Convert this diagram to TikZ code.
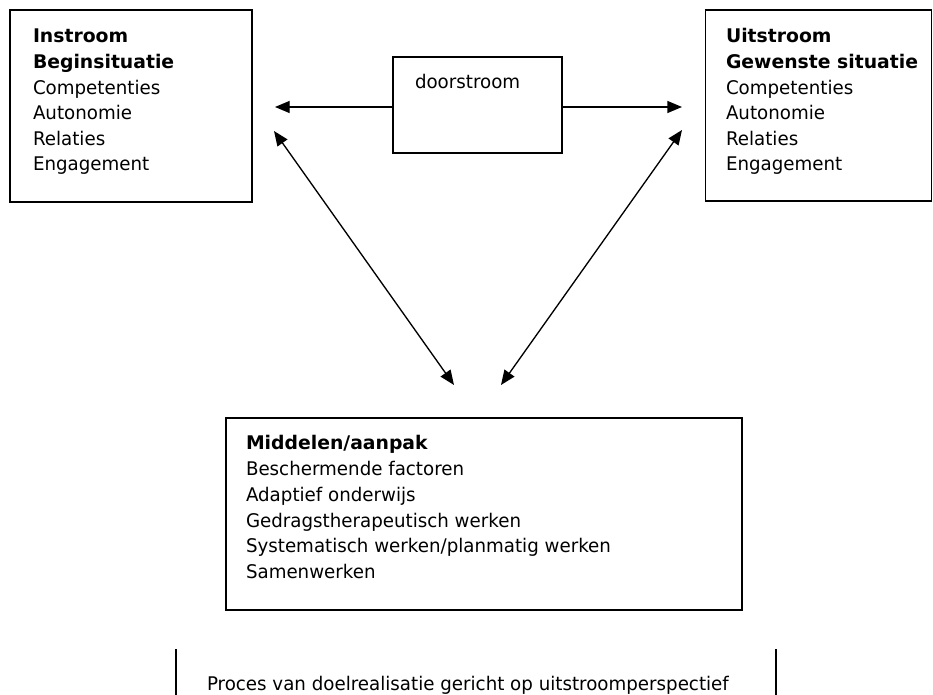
\documentclass[tikz,border=0pt]{standalone}
\usepackage{fontspec}
\setmainfont{DejaVu Sans}[UprightFeatures={FakeStretch=0.97}]
\usetikzlibrary{arrows.meta}
\begin{document}
\begin{tikzpicture}[x=0.75pt,y=-0.75pt,
  every node/.style={inner sep=0pt,outer sep=0pt},
  box/.style={draw,line width=1.1pt,rectangle},
  txt/.style={anchor=base west,font=\fontsize{14.1}{17}\selectfont},
  arr/.style={line width=1pt,-{Triangle[length=11pt,width=9pt]}},
  darr/.style={line width=1pt,{Triangle[length=11pt,width=9pt]}-{Triangle[length=11pt,width=9pt]}},
  rule/.style={line width=1.3pt}]
\useasboundingbox (0,0) rectangle (933,695);
% boxes
\node[box,minimum width=181.5pt,minimum height=144pt] (inbox) at (131,106) {};
\node[box,minimum width=169.5pt,minimum height=143.25pt] (outbox) at (818.25,105.5) {};
\node[box,minimum width=126.75pt,minimum height=72pt] (door) at (477.5,105) {};
\node[box,minimum width=387pt,minimum height=144pt] (mid) at (484,514) {};
% left text
\node[txt] (i1) at (33,43) {\bfseries Instroom};
\node[txt] (i2) at (33,68.6) {\bfseries Beginsituatie};
\node[txt] (i3) at (33,94.2) {Competenties};
\node[txt] (i4) at (33,119.8) {Autonomie};
\node[txt] (i5) at (33,145.4) {Relaties};
\node[txt] (i6) at (33,171) {Engagement};
% right text
\node[txt] (u1) at (726,43) {\bfseries Uitstroom};
\node[txt] (u2) at (726,68.6) {\bfseries Gewenste situatie};
\node[txt] (u3) at (726,94.2) {Competenties};
\node[txt] (u4) at (726,119.8) {Autonomie};
\node[txt] (u5) at (726,145.4) {Relaties};
\node[txt] (u6) at (726,171) {Engagement};
% doorstroom
\node[txt] (d1) at (415,89) {doorstroom};
% middle text
\node[txt] (m1) at (246,450) {\bfseries Middelen/aanpak};
\node[txt] (m2) at (246,475.7) {Beschermende factoren};
\node[txt] (m3) at (246,501.4) {Adaptief onderwijs};
\node[txt] (m4) at (246,527.1) {Gedragstherapeutisch werken};
\node[txt] (m5) at (246,552.8) {Systematisch werken/planmatig werken};
\node[txt] (m6) at (246,578.5) {Samenwerken};
% bottom
\node[txt] (p1) at (207,690) {Proces van doelrealisatie gericht op uitstroomperspectief};
% arrow coordinates
\coordinate (aL) at (275,107);
\coordinate (aR) at (682,107);
\coordinate (dL1) at (274,131);
\coordinate (dL2) at (454,385);
\coordinate (dR1) at (682,130);
\coordinate (dR2) at (501,385);
\draw[arr] (door.west |- aL) -- (aL);
\draw[arr] (door.east |- aR) -- (aR);
\draw[darr] (dL1) -- (dL2);
\draw[darr] (dR1) -- (dR2);
% bottom rules
\coordinate (bL1) at (176,649);
\coordinate (bL2) at (176,695);
\coordinate (bR1) at (776,649);
\coordinate (bR2) at (776,695);
\draw[rule] (bL1) -- (bL2);
\draw[rule] (bR1) -- (bR2);
\end{tikzpicture}
\end{document}
